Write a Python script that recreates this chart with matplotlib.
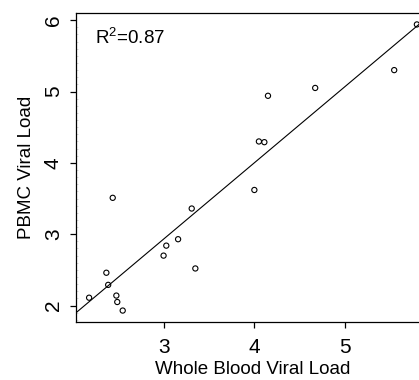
import numpy as np
from matplotlib import pyplot as plt
from matplotlib.ticker import MultipleLocator

plt.rcParams['font.family'] = ['Liberation Sans', 'DejaVu Sans']
plt.rcParams['mathtext.fontset'] = 'custom'
plt.rcParams['mathtext.rm'] = 'Liberation Sans'

# whole blood vs PBMC viral load (log10)
whole_blood = [2.18, 2.37, 2.39, 2.44, 2.48, 2.49, 2.55, 3.00, 3.03, 3.16,
               3.31, 3.35, 4.00, 4.05, 4.11, 4.15, 4.67, 5.54, 5.79]
pbmc = [2.11, 2.46, 2.29, 3.51, 2.14, 2.05, 1.93, 2.70, 2.84, 2.93,
        3.36, 2.52, 3.62, 4.30, 4.29, 4.94, 5.05, 5.30, 5.94]
fit_intercept = -0.279
fit_slope = 1.070
r2_text = r'R$^{\mathrm{2}}$=0.87'

x_ticks = [3, 4, 5]
y_ticks = [2, 3, 4, 5, 6]

fig = plt.figure(figsize=(4.19, 3.80), dpi=100)
ax = fig.add_axes([76 / 419, 58 / 380, 354 / 419, 309 / 380])

xs = np.array(whole_blood)
ys = np.array(pbmc)
# R-style 4% padding around the data range
xpad = 0.04 * (xs.max() - xs.min())
ypad = 0.04 * (ys.max() - ys.min())
ax.set_xlim(xs.min() - xpad, xs.max() + xpad)
ax.set_ylim(ys.min() - ypad, ys.max() + ypad)

ax.scatter(xs, ys, s=14, facecolors='none', edgecolors='black',
           linewidths=0.8, clip_on=False, zorder=3)

lx = np.array(ax.get_xlim())
ax.plot(lx, fit_intercept + fit_slope * lx, color='black', lw=0.8)

ax.text(0.055, 0.92, r2_text, transform=ax.transAxes, fontsize=13.5,
        ha='left', va='center')

ax.spines['right'].set_visible(False)
for s in ['left', 'top', 'bottom']:
    ax.spines[s].set_linewidth(0.9)

ax.set_xticks(x_ticks)
ax.set_yticks(y_ticks)
ax.yaxis.set_minor_locator(MultipleLocator(0.1))
ax.tick_params(axis='both', which='major', direction='out', length=4.5,
               width=0.9, labelsize=15)
ax.tick_params(axis='x', which='major', pad=7)
ax.tick_params(axis='y', which='major', pad=5)
ax.tick_params(axis='y', which='minor', direction='in', length=1.5,
               width=0.5, color='#c8c8c8')
for lab in ax.get_yticklabels():
    lab.set_rotation(90)
    lab.set_va('center')

ax.set_xlabel('Whole Blood Viral Load', fontsize=13.5, labelpad=3)
ax.set_ylabel('PBMC Viral Load', fontsize=13.5, labelpad=6)

fig.savefig('out.png', dpi=100)
